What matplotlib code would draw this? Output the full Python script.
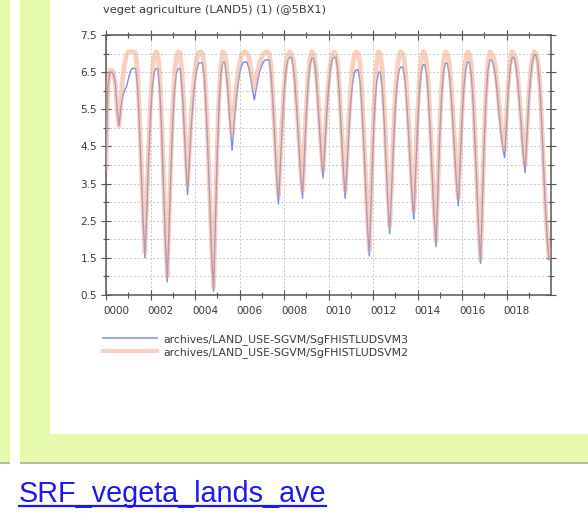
import numpy as np
import matplotlib
matplotlib.use("Agg")
import matplotlib.pyplot as plt
from matplotlib.patches import Rectangle
from matplotlib.lines import Line2D

# ---------------- data (monthly values, years 0000-0019) ----------------
title = "veget agriculture (LAND5) (1) (@5BX1)"
series_labels = ["archives/LAND_USE-SGVM/SgFHISTLUDSVM3",
                 "archives/LAND_USE-SGVM/SgFHISTLUDSVM2"]
link_text = "SRF_vegeta_lands_ave"
year_labels = ["0000", "0002", "0004", "0006", "0008",
               "0010", "0012", "0014", "0016", "0018"]
y_tick_values = [0.5, 1.5, 2.5, 3.5, 4.5, 5.5, 6.5, 7.5]

blue_values = [
    3.9, 6.1, 6.5, 6.5, 6.45, 6.2, 5.5, 5.05, 5.55, 5.85, 6.0, 6.1,
    6.3, 6.5, 6.6, 6.6, 6.6, 6.09, 5.07, 3.80, 2.52, 1.5, 2.78, 4.15,
    5.33, 6.09, 6.5, 6.6, 6.6, 6.03, 4.88, 3.44, 2.0, 0.85, 2.29, 3.84,
    5.16, 6.03, 6.49, 6.6, 6.6, 6.09, 5.17, 4.12, 3.2, 4.16, 5.05, 5.76,
    6.25, 6.57, 6.75, 6.75, 6.75, 6.38, 5.52, 4.29, 2.94, 1.58, 0.6, 2.45,
    4.3, 5.66, 6.46, 6.77, 6.77, 6.41, 5.77, 5.04, 4.4, 5.04, 5.63, 6.11,
    6.44, 6.65, 6.77, 6.77, 6.77, 6.62, 6.34, 6.03, 5.75, 6.04, 6.31, 6.53,
    6.68, 6.78, 6.83, 6.83, 6.83, 6.44, 5.67, 4.7, 3.73, 2.95, 3.94, 5.0,
    5.91, 6.51, 6.82, 6.9, 6.9, 6.67, 6.14, 5.38, 4.54, 3.71, 3.1, 4.23,
    5.37, 6.2, 6.69, 6.88, 6.88, 6.56, 5.91, 5.1, 4.3, 3.65, 4.46, 5.34,
    6.09, 6.58, 6.84, 6.9, 6.9, 6.52, 5.76, 4.81, 3.86, 3.1, 3.97, 4.9,
    5.7, 6.21, 6.49, 6.56, 6.56, 6.26, 5.56, 4.56, 3.45, 2.35, 1.55, 3.04,
    4.52, 5.61, 6.25, 6.5, 6.5, 6.07, 5.2, 4.11, 3.02, 2.15, 3.27, 4.48,
    5.52, 6.19, 6.55, 6.64, 6.64, 6.39, 5.82, 5.0, 4.1, 3.2, 2.55, 3.8,
    5.04, 5.95, 6.49, 6.7, 6.7, 6.41, 5.72, 4.74, 3.66, 2.58, 1.8, 3.28,
    4.76, 5.85, 6.49, 6.74, 6.74, 6.51, 5.97, 5.2, 4.36, 3.51, 2.9, 4.06,
    5.22, 6.07, 6.58, 6.77, 6.77, 6.44, 5.69, 4.6, 3.41, 2.22, 1.35, 2.99,
    4.64, 5.84, 6.56, 6.83, 6.83, 6.7, 6.41, 5.94, 5.38, 4.86, 4.46, 4.2,
    5.15, 6.04, 6.63, 6.9, 6.9, 6.71, 6.28, 5.66, 4.98, 4.3, 3.8, 4.75,
    5.7, 6.39, 6.8, 6.96, 6.96, 6.68, 6.08, 5.09, 3.93, 2.83, 2.0, 1.45,
]

orange_values = [
    3.9, 6.1, 6.55, 6.55, 6.5, 6.2, 5.5, 5.05, 5.7, 6.3, 6.7, 6.95,
    7.05, 7.05, 7.05, 7.05, 7.0, 6.51, 5.43, 4.08, 2.73, 1.65, 3.0, 4.46,
    5.7, 6.51, 6.94, 7.05, 7.0, 6.45, 5.24, 3.72, 2.21, 1.0, 2.51, 4.15,
    5.54, 6.45, 6.93, 7.05, 7.0, 6.51, 5.54, 4.42, 3.45, 4.42, 5.32, 6.04,
    6.55, 6.87, 7.03, 7.05, 7.0, 6.67, 5.78, 4.51, 3.11, 1.72, 0.7, 2.61,
    4.51, 5.91, 6.73, 7.05, 7.0, 6.71, 6.11, 5.41, 4.8, 5.41, 5.97, 6.42,
    6.74, 6.94, 7.03, 7.05, 7.0, 6.9, 6.63, 6.32, 6.05, 6.32, 6.57, 6.77,
    6.91, 7.0, 7.03, 7.05, 7.0, 6.66, 5.88, 4.91, 3.93, 3.15, 4.13, 5.18,
    6.08, 6.66, 6.97, 7.05, 7.0, 6.83, 6.3, 5.55, 4.73, 3.9, 3.3, 4.43,
    5.55, 6.38, 6.86, 7.05, 7.0, 6.73, 6.09, 5.29, 4.49, 3.85, 4.65, 5.51,
    6.25, 6.73, 6.99, 7.05, 7.0, 6.68, 5.93, 4.99, 4.05, 3.3, 4.24, 5.25,
    6.11, 6.68, 6.98, 7.05, 7.0, 6.73, 5.98, 4.91, 3.73, 2.56, 1.7, 3.31,
    4.91, 6.09, 6.78, 7.05, 7.0, 6.58, 5.64, 4.47, 3.29, 2.35, 3.53, 4.79,
    5.88, 6.58, 6.96, 7.05, 7.0, 6.79, 6.19, 5.33, 4.38, 3.44, 2.75, 4.04,
    5.33, 6.28, 6.84, 7.05, 7.0, 6.74, 6.03, 5.01, 3.89, 2.77, 1.95, 3.48,
    5.01, 6.13, 6.8, 7.05, 7.0, 6.81, 6.26, 5.47, 4.6, 3.73, 3.1, 4.29,
    5.47, 6.34, 6.85, 7.05, 7.0, 6.71, 5.93, 4.81, 3.58, 2.35, 1.45, 3.13,
    4.81, 6.04, 6.77, 7.05, 7.0, 6.92, 6.63, 6.15, 5.59, 5.06, 4.67, 4.4,
    5.33, 6.2, 6.79, 7.05, 7.0, 6.87, 6.44, 5.83, 5.16, 4.49, 4.0, 4.92,
    5.83, 6.5, 6.9, 7.05, 7.0, 6.77, 6.16, 5.16, 4.0, 2.89, 2.06, 1.5,
]

n_years = 20
time_axis = np.arange(len(blue_values)) / 12.0   # month index -> years

# ---------------- figure ----------------
W, H = 588, 529
fig = plt.figure(figsize=(W / 100, H / 100), dpi=100, facecolor="white")

green = "#e5fbab"
def px_rect(x0, y0, x1, y1, color, z=0):
    fig.add_artist(Rectangle((x0 / W, 1 - y1 / H), (x1 - x0) / W, (y1 - y0) / H,
                             transform=fig.transFigure, facecolor=color,
                             edgecolor="none", zorder=z))

px_rect(0, 0, 10, 462, green)
px_rect(20, 0, W, 462, green)
px_rect(50, 0, W, 434, "white", z=0.5)
px_rect(0, 462, 10, 464, "#b5bd9a", z=0.6)
px_rect(20, 462, W, 464, "#b5bd9a", z=0.6)

ax = fig.add_axes([106 / W, 1 - 295 / H, (551 - 106) / W, (295 - 35) / H])
ax.set_zorder(2)
ax.set_facecolor("white")

ax.plot(time_axis, blue_values, color="#6f8ee6", lw=1.0, zorder=3)
ax.plot(time_axis, orange_values, color="#f3a283", lw=3.4, alpha=0.5,
        zorder=4, solid_capstyle="round")

ax.set_xlim(0, n_years)
ax.set_ylim(0.5, 7.5)

ax.set_yticks(y_tick_values)
ax.set_yticklabels([f"{v:.1f}" for v in y_tick_values])
ax.set_yticks(np.arange(1.0, 7.5, 1.0), minor=True)

label_years = np.arange(0, n_years, 2)
ax.set_xticks(label_years)
ax.set_xticklabels([])
ax.set_xticks(np.arange(1, n_years + 1, 2), minor=True)

# year labels sit in the middle of the labelled year
for yr, lab in zip(label_years, year_labels):
    ax.annotate(lab, xy=(yr + 0.45, 0), xycoords=("data", "axes fraction"),
                xytext=(0, -8), textcoords="offset points", ha="center",
                va="top", fontsize=7.5, color="#3a3a3a")

ax.tick_params(which="both", direction="inout", top=True, right=True,
               labeltop=False, labelright=False, color="#555555",
               labelsize=7.5, labelcolor="#3a3a3a", width=0.8)
ax.tick_params(which="major", length=7)
ax.tick_params(which="minor", length=4)
ax.tick_params(axis="y", pad=3)

for s in ax.spines.values():
    s.set_color("#555555")
    s.set_linewidth(1.1)

ax.grid(which="major", axis="x", color="#c8c8c8", ls=(0, (2, 2)), lw=0.7)
ax.grid(which="both", axis="y", color="#c8c8c8", ls=(0, (2, 2)), lw=0.7)

fig.text(103 / W, 1 - 10 / H, title, fontsize=8.2, color="#3a3a3a",
         ha="left", va="center", zorder=5)

handles = [Line2D([], [], color="#7d98e8", lw=1.2),
           Line2D([], [], color="#f3a283", lw=3.0, alpha=0.5)]
leg = fig.legend(handles, series_labels, loc="upper left",
                 bbox_to_anchor=(103 / W, 1 - 334 / H), frameon=False,
                 fontsize=7.8, handlelength=5.0, handletextpad=0.6,
                 labelspacing=0.18, borderaxespad=0, borderpad=0)
for t in leg.get_texts():
    t.set_color("#3a3a3a")

fig.text(19 / W, 1 - 502 / H, link_text, fontsize=20.7, color="#1a1aee",
         family="Liberation Sans", ha="left", va="baseline", zorder=5)
fig.add_artist(Line2D([19 / W, 326 / W], [1 - 506 / H, 1 - 506 / H],
                      transform=fig.transFigure, color="#1a1aee", lw=1.6))

fig.savefig("out.png", dpi=100, facecolor="white")
